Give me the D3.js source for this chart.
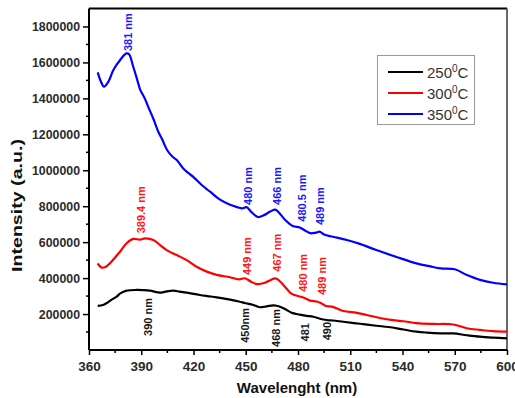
<!DOCTYPE html>
<html>
<head>
<meta charset="utf-8">
<script src="https://cdn.jsdelivr.net/npm/d3@7"></script>
<style>
  html, body { margin: 0; padding: 0; background: #fff; }
  svg { display: block; }
  text { font-family: "Liberation Sans", Arial, sans-serif; }
</style>
</head>
<body>
<svg id="chart" width="515" height="398"></svg>
<script>
// ---------- data ----------
const seriesNames = ["250", "300", "350"];
const seriesColors = ["#000000", "#ff0000", "#0000ff"];

const nm250 = [365, 368, 370, 373, 375.9, 378, 381.6, 387.4, 391, 395, 400.8, 404, 408.4, 412, 416.1, 420, 423.7, 428, 433.3, 441, 446, 450, 454, 458, 462, 466, 469.7, 473, 477, 481, 485, 488.8, 492.6, 496.5, 500, 506, 515.6, 525, 532, 540.5, 548, 554, 562, 569, 577, 584.5, 592, 600];
const val250 = [245000, 250000, 260000, 280000, 297000, 315000, 330000, 334000, 333000, 330000, 319000, 325000, 330000, 325000, 319000, 312000, 306000, 300000, 293000, 280000, 270000, 260000, 252000, 238000, 243000, 248000, 241000, 225000, 205000, 197000, 190000, 185000, 174000, 167000, 164000, 157000, 146000, 135000, 128000, 114000, 102000, 97000, 93000, 92000, 82000, 74000, 69000, 65000];

const nm300 = [365, 367.3, 370, 372, 375, 377.8, 381.6, 385.4, 389.3, 392.2, 396.9, 400.8, 404.6, 410.4, 416.1, 421.8, 427.6, 433.3, 441, 446, 449.5, 453, 456.3, 461, 464, 467, 469, 471.6, 474, 476.4, 481, 484, 487, 490.7, 493, 496, 500, 506, 513.7, 519.4, 530.9, 540.5, 548, 557.7, 569.2, 576.9, 584.5, 592, 600];
const val300 = [482000, 458000, 465000, 482000, 515000, 547000, 594000, 618000, 614000, 621000, 612000, 584000, 556000, 528000, 500000, 463000, 436000, 418000, 405000, 393000, 399000, 380000, 367000, 374000, 388000, 399000, 388000, 362000, 335000, 312000, 298000, 288000, 275000, 270000, 262000, 245000, 240000, 217000, 207000, 195000, 171000, 160000, 150000, 145000, 142000, 121000, 112000, 105000, 102000];

const nm350 = [365, 367, 368.6, 371, 374, 378, 381.5, 383, 385.4, 387.5, 389.3, 392, 394, 397, 400, 402, 405, 408, 410.4, 414, 417, 420, 424.7, 429.5, 435, 441, 445, 448, 450.5, 453, 457, 460, 464, 467, 469, 472.5, 477, 481, 484, 487, 490, 492.5, 495, 500, 508, 515, 525, 537, 548, 556, 562, 570, 577, 584.5, 592, 600];
const val350 = [1545000, 1490000, 1465000, 1490000, 1558000, 1615000, 1650000, 1645000, 1576000, 1510000, 1450000, 1400000, 1353000, 1285000, 1210000, 1172000, 1110000, 1075000, 1057000, 1011000, 985000, 962000, 918000, 881000, 838000, 808000, 795000, 788000, 795000, 770000, 740000, 748000, 770000, 781000, 765000, 725000, 690000, 682000, 665000, 650000, 652000, 658000, 642000, 630000, 612000, 592000, 556000, 516000, 482000, 465000, 454000, 449000, 417000, 390000, 374000, 365000];

const xTicks = [360, 390, 420, 450, 480, 510, 540, 570, 600];
const yTicks = [200000, 400000, 600000, 800000, 1000000, 1200000, 1400000, 1600000, 1800000];

// peak annotations (blue/red: text starts at the anchor going up; black: text ends at the anchor going down)
const note350Labels = ["381 nm", "480 nm", "466 nm", "480.5 nm", "489 nm"];
const note350Nm = [382.6, 451.5, 468.1, 482.1, 492.6];
const note350Val = [1663000, 807000, 807000, 714000, 695000];

const note300Labels = ["389.4 nm", "449 nm", "467 nm", "480 nm", "489 nm"];
const note300Nm = [389.6, 451.0, 467.8, 482.7, 493.6];
const note300Val = [649000, 417000, 436000, 324000, 306000];

const note250Labels = ["390 nm", "450nm", "468 nm", "481", "490"];
const note250Nm = [394, 449.6, 467.4, 484, 496.5];
const note250Val = [289000, 234000, 228000, 150000, 156000];

// ---------- chart ----------
const svg = d3.select("#chart");
const L = 89, R = 507, T = 8.5, B = 350;
const x = d3.scaleLinear().domain([360, 600]).range([L, R]);
const y = d3.scaleLinear().domain([0, 1900000]).range([B, T]);

const tickColor = "#2b2b2b";

// frame (top and right)
svg.append("line").attr("x1", L).attr("x2", R).attr("y1", T).attr("y2", T)
  .attr("stroke", "#000").attr("stroke-width", 2);
svg.append("line").attr("x1", R).attr("x2", R).attr("y1", T).attr("y2", B)
  .attr("stroke", "#444").attr("stroke-width", 1.6);

// x axis
const xMinor = d3.range(375, 600, 30);
const gx = svg.append("g").attr("transform", `translate(0,${B})`);
gx.call(d3.axisBottom(x).tickValues(xTicks).tickSize(5).tickPadding(6).tickFormat(d3.format("d")));
gx.selectAll(".tick.minor").data(xMinor).enter().append("line")
  .attr("x1", d => x(d)).attr("x2", d => x(d)).attr("y1", 0).attr("y2", 3)
  .attr("stroke", "#000").attr("stroke-width", 1.5);
gx.select(".domain").attr("stroke", "#000").attr("stroke-width", 2).attr("d", `M${L},0H${R}`);
gx.selectAll(".tick line").attr("stroke", "#000").attr("stroke-width", 1.5);
gx.selectAll(".tick text").attr("fill", tickColor).attr("font-size", 13.5).attr("font-weight", "bold")
  .attr("font-family", "Liberation Sans, Arial, sans-serif");

// y axis
const yMinor = d3.range(100000, 1900000, 200000);
const gy = svg.append("g").attr("transform", `translate(${L},0)`);
gy.call(d3.axisLeft(y).tickValues(yTicks).tickSize(6).tickPadding(3).tickFormat(d3.format("d")));
gy.selectAll(".minor").data(yMinor).enter().append("line")
  .attr("y1", d => y(d)).attr("y2", d => y(d)).attr("x1", 0).attr("x2", -3)
  .attr("stroke", "#000").attr("stroke-width", 1.5);
gy.select(".domain").attr("stroke", "#000").attr("stroke-width", 2).attr("d", `M0,${B}V${T}`);
gy.selectAll(".tick line").attr("stroke", "#000").attr("stroke-width", 1.5);
gy.selectAll(".tick text").attr("fill", tickColor).attr("font-size", 13.5).attr("font-weight", "bold")
  .attr("font-family", "Liberation Sans, Arial, sans-serif")
  .attr("textLength", function () { return this.textContent.length * 6.86; })
  .attr("lengthAdjust", "spacingAndGlyphs");

// axis titles
svg.append("text").attr("x", 297).attr("y", 393).attr("text-anchor", "middle")
  .attr("font-size", 15).attr("font-weight", "bold").attr("fill", "#111")
  .text("Wavelenght (nm)");
svg.append("text").attr("transform", "translate(22,205.5) rotate(-90)").attr("text-anchor", "middle")
  .attr("font-size", 15).attr("font-weight", "bold").attr("fill", "#111")
  .attr("textLength", 133).attr("lengthAdjust", "spacingAndGlyphs")
  .text("Intensity (a.u.)");

// lines
const seriesNm = [nm250, nm300, nm350];
const seriesVal = [val250, val300, val350];
const line = d3.line().x(d => x(d[0])).y(d => y(d[1])).curve(d3.curveCatmullRom.alpha(0.5));
seriesNm.forEach((nms, i) => {
  const pts = nms.map((n, j) => [n, seriesVal[i][j]]);
  svg.append("path").datum(pts).attr("d", line)
    .attr("fill", "none").attr("stroke", seriesColors[i]).attr("stroke-width", 2.2)
    .attr("stroke-linejoin", "round");
});

// annotations
function notes(labels, nms, vals, color, anchor) {
  labels.forEach((lab, i) => {
    svg.append("text")
      .attr("transform", `translate(${x(nms[i])},${y(vals[i])}) rotate(-90)`)
      .attr("text-anchor", anchor).attr("dominant-baseline", "central")
      .attr("font-size", 11).attr("font-weight", "bold").attr("fill", color)
      .text(lab);
  });
}
notes(note350Labels, note350Nm, note350Val, "#1a1aff", "start");
notes(note300Labels, note300Nm, note300Val, "#ff1a1a", "start");
notes(note250Labels, note250Nm, note250Val, "#1a1a1a", "end");

// legend
const lg = svg.append("g");
lg.append("rect").attr("x", 377.5).attr("y", 55.5).attr("width", 97).attr("height", 69)
  .attr("fill", "#fff").attr("stroke", "#999").attr("stroke-width", 1);
const rowY = [72, 93, 114];
seriesNames.forEach((nm, i) => {
  lg.append("line").attr("x1", 388).attr("x2", 423).attr("y1", rowY[i]).attr("y2", rowY[i])
    .attr("stroke", seriesColors[i]).attr("stroke-width", 2.2);
  const t = lg.append("text").attr("x", 427).attr("y", rowY[i] + 5.5)
    .attr("font-size", 15).attr("fill", "#333");
  t.append("tspan").text(nm);
  t.append("tspan").attr("dy", -6).attr("font-size", 10).text("0");
  t.append("tspan").attr("dy", 6).text("C");
});
</script>
</body>
</html>
